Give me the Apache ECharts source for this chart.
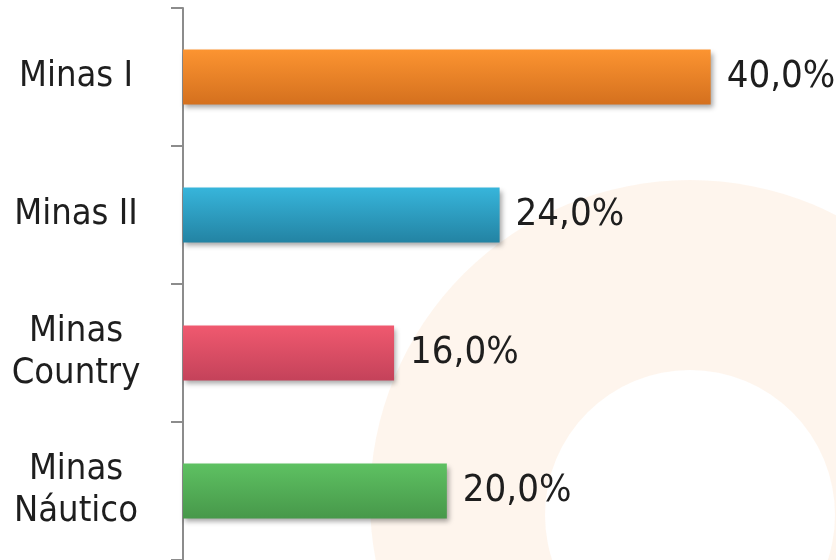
<!DOCTYPE html>
<html>
<head>
    <meta charset="utf-8">
    <title>Minas</title>
    <script src="https://cdn.jsdelivr.net/npm/echarts@6/dist/echarts.min.js"></script>
    <style>
        html, body { margin: 0; padding: 0; background: #fff; }
        #chart1 { width: 836px; height: 560px; }
    </style>
</head>
<body>
<div id="chart1"></div>
<script>
    // dados do gráfico
    var categorias = ['Minas I', 'Minas II', 'Minas\nCountry', 'Minas\nNáutico'];
    var valores = [40.0, 24.0, 16.0, 20.0];
    // cores das barras (topo, base)
    var coresTopo = ['#fc9431', '#37b5db', '#f0596f', '#5ec162'];
    var coresBase = ['#d4701e', '#2383a3', '#c4425a', '#47984a'];

    var fonte = '"Liberation Sans Narrow", "DejaVu Sans Condensed", "Roboto Condensed", Roboto';

    var myChart1 = echarts.init(document.getElementById('chart1'));

    var dadosSerie = valores.map(function (v, i) {
        return {
            value: v,
            itemStyle: {
                color: new echarts.graphic.LinearGradient(0, 0, 0, 1, [
                    {offset: 0, color: coresTopo[i]},
                    {offset: 1, color: coresBase[i]}
                ])
            }
        };
    });

    myChart1.setOption({
        animation: false,
        // marca d'água ao fundo
        graphic: [
            {
                type: 'circle', z: -10, silent: true,
                shape: {cx: 690, cy: 500, r: 320},
                style: {fill: 'rgba(250, 195, 140, 0.16)'}
            },
            {
                type: 'circle', z: -9, silent: true,
                shape: {cx: 690, cy: 515, r: 145},
                style: {fill: '#ffffff'}
            }
        ],
        grid: {left: 183, right: 0, top: 8, bottom: 0, containLabel: false},
        xAxis: {
            type: 'value',
            min: 0,
            max: 49.5,
            show: false
        },
        yAxis: {
            type: 'category',
            inverse: true,
            data: categorias,
            axisLine: {show: true, lineStyle: {color: '#8c8c8c', width: 2}},
            axisTick: {show: true, length: 12, lineStyle: {color: '#8c8c8c', width: 2}},
            axisLabel: {
                margin: 107,
                fontSize: 36,
                lineHeight: 42,
                color: '#1e1e1e',
                fontFamily: fonte,
                align: 'center'
            },
            splitLine: {show: false}
        },
        series: [{
            type: 'bar',
            data: dadosSerie,
            barWidth: 55,
            itemStyle: {
                shadowColor: 'rgba(0, 0, 0, 0.35)',
                shadowBlur: 5,
                shadowOffsetX: 2,
                shadowOffsetY: 3
            },
            label: {
                show: true,
                position: 'right',
                distance: 16,
                fontSize: 38,
                color: '#1e1e1e',
                fontFamily: fonte,
                formatter: function (p) {
                    return p.value.toFixed(1).replace('.', ',') + '%';
                }
            }
        }]
    });
</script>
</body>
</html>
